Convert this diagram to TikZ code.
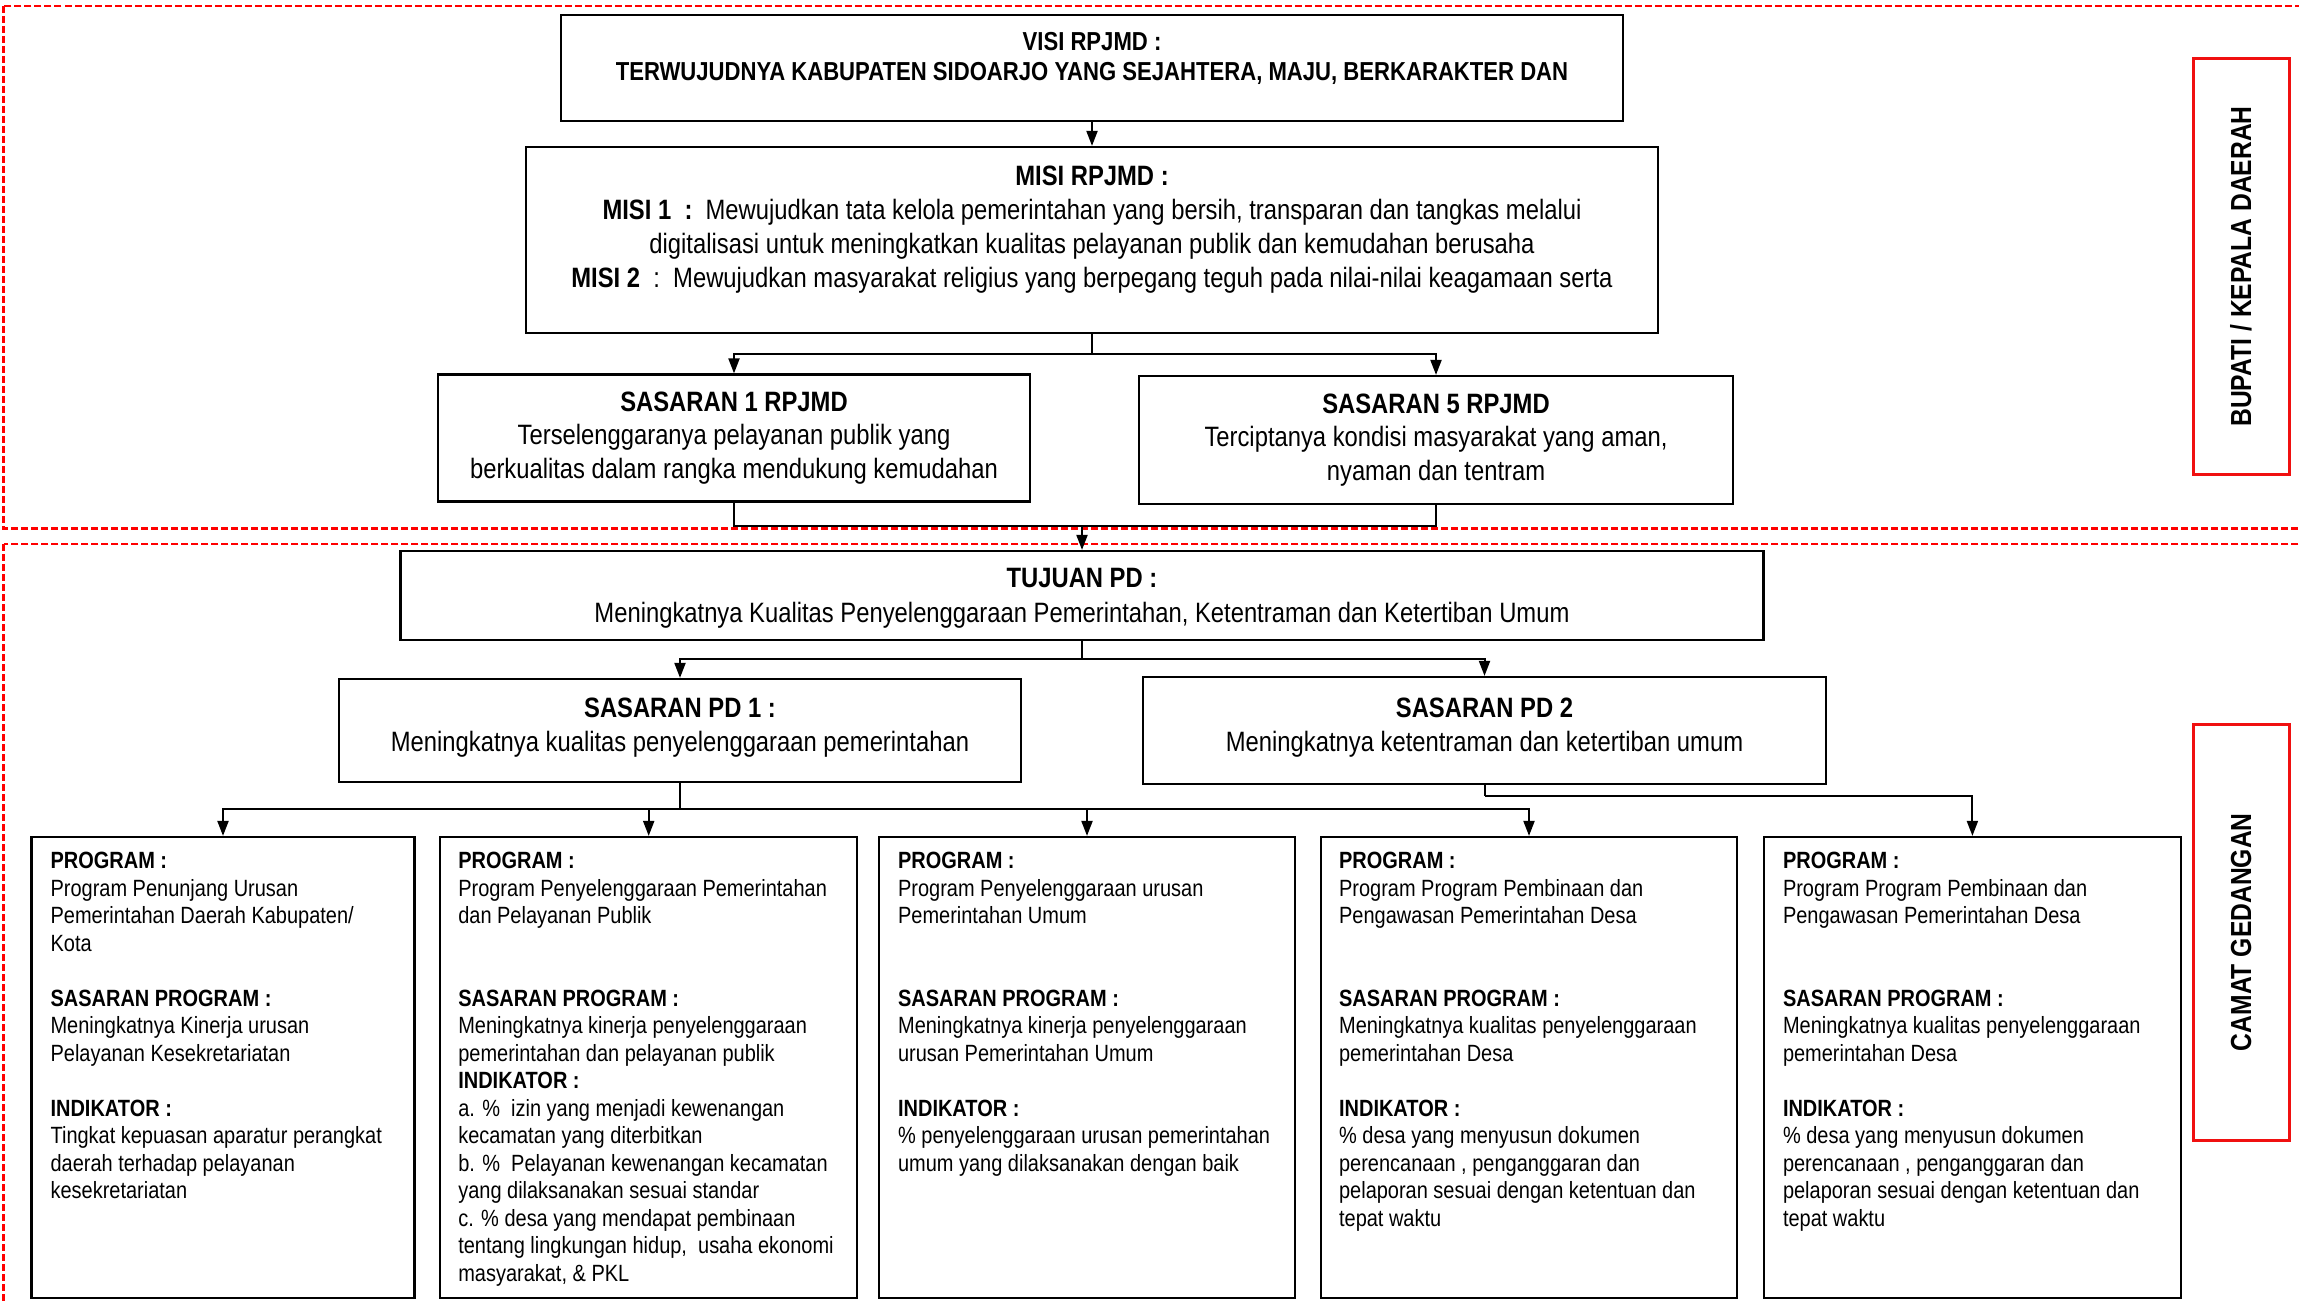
\documentclass[tikz,border=0pt]{standalone}
\usepackage{fontspec}
\setmainfont{Liberation Sans}[FakeStretch=0.85]
\usepackage{xcolor}
\usepackage{tikz}
\usetikzlibrary{arrows.meta,positioning}
\definecolor{zonered}{HTML}{FF0000}
\definecolor{sidered}{HTML}{F01010}
\tikzset{
  box/.style={draw=black,line width=2.2pt,align=center,inner sep=0pt},
  progbox/.style={draw=black,line width=2.2pt,minimum height=461pt,inner sep=0pt},
  progtext/.style={anchor=north west,align=left,inner sep=0pt,font=\fontsize{23.5}{27.5}\selectfont},
  sidebox/.style={draw=sidered,line width=3pt,rotate=90,minimum width=416pt,minimum height=96pt,inner sep=0pt,font=\fontsize{29}{34}\selectfont\bfseries},
  zone/.style={draw=zonered,line width=2.5pt,dash pattern=on 7pt off 3pt},
  wire/.style={draw=black,line width=2pt},
  flow/.style={-{Triangle[length=15pt,width=11pt]},draw=black,line width=2pt}
}

\begin{document}
\begin{tikzpicture}[x=1pt,y=-1pt]
  \useasboundingbox (0,0) rectangle (2299,1303);
  % dashed zones
  \draw[zone] (3.7,6) rectangle (2320,528.6);
  \draw[zone] (3.7,544) rectangle (2320,1320);

  % rpjmd
  \node[box,minimum width=1062pt,minimum height=106pt,text depth=24pt,font=\fontsize{26}{30}\selectfont\bfseries] (visi) at (1092,68)
    {VISI RPJMD :\\TERWUJUDNYA KABUPATEN SIDOARJO YANG SEJAHTERA, MAJU, BERKARAKTER DAN};
  \node[box,minimum width=1132pt,minimum height=186pt,text depth=26pt,font=\fontsize{28}{34}\selectfont] (misi) at (1092,240)
    {\textbf{MISI RPJMD :}\\
     \textbf{MISI 1\ \ :}\ \ Mewujudkan tata kelola pemerintahan yang bersih, transparan dan tangkas melalui\\
     digitalisasi untuk meningkatkan kualitas pelayanan publik dan kemudahan berusaha\\
     \textbf{MISI 2}\ \ :\ \ Mewujudkan masyarakat religius yang berpegang teguh pada nilai-nilai keagamaan serta};
  \node[box,minimum width=592pt,minimum height=127pt,font=\fontsize{28}{33.5}\selectfont] (sas1) at (734,438)
    {\textbf{SASARAN 1 RPJMD}\\Terselenggaranya pelayanan publik yang\\berkualitas dalam rangka mendukung kemudahan};
  \node[box,minimum width=594pt,minimum height=128pt,font=\fontsize{28}{33.5}\selectfont] (sas5) at (1436,440)
    {\textbf{SASARAN 5 RPJMD}\\Terciptanya kondisi masyarakat yang aman,\\nyaman dan tentram};

  % perangkat daerah
  \node[box,minimum width=1363pt,minimum height=89pt,text depth=0pt,font=\fontsize{28}{35}\selectfont] (tujuan) at (1082,595.5)
    {\textbf{TUJUAN PD :}\\Meningkatnya Kualitas Penyelenggaraan Pemerintahan, Ketentraman dan Ketertiban Umum};
  \node[box,minimum width=682pt,minimum height=103pt,text depth=12pt,font=\fontsize{28}{33.5}\selectfont] (pd1) at (680,730.5)
    {\textbf{SASARAN PD 1 :}\\Meningkatnya kualitas penyelenggaraan pemerintahan};
  \node[box,minimum width=683pt,minimum height=107pt,text depth=12pt,font=\fontsize{28}{33.5}\selectfont] (pd2) at (1484.5,730.5)
    {\textbf{SASARAN PD 2}\\Meningkatnya ketentraman dan ketertiban umum};

  % program
  \node[progbox,minimum width=383pt] (p1) at (223,1067.5) {};
  \node[progbox,minimum width=417pt] (p2) at (648.7,1067.5) {};
  \node[progbox,minimum width=416pt] (p3) at (1087,1067.5) {};
  \node[progbox,minimum width=416pt] (p4) at (1529,1067.5) {};
  \node[progbox,minimum width=417pt] (p5) at (1972.4,1067.5) {};

  \node[progtext] (p1t) at ([xshift=20pt,yshift=-16pt]p1.north west)
    {\textbf{PROGRAM :}\\Program Penunjang Urusan\\Pemerintahan Daerah Kabupaten/\\Kota\\[27.5pt]
     \textbf{SASARAN PROGRAM :}\\Meningkatnya Kinerja urusan\\Pelayanan Kesekretariatan\\[27.5pt]
     \textbf{INDIKATOR :}\\Tingkat kepuasan aparatur perangkat\\daerah terhadap pelayanan\\kesekretariatan};
  \node[progtext] (p2t) at ([xshift=19pt,yshift=-16pt]p2.north west)
    {\textbf{PROGRAM :}\\Program Penyelenggaraan Pemerintahan\\dan Pelayanan Publik\\[55pt]
     \textbf{SASARAN PROGRAM :}\\Meningkatnya kinerja penyelenggaraan\\pemerintahan dan pelayanan publik\\
     \textbf{INDIKATOR :}\\a. \%\ \ izin yang menjadi kewenangan\\kecamatan yang diterbitkan\\
     b. \%\ \ Pelayanan kewenangan kecamatan\\yang dilaksanakan sesuai standar\\
     c. \% desa yang mendapat pembinaan\\tentang lingkungan hidup,\ \ usaha ekonomi\\masyarakat, \& PKL};
  \node[progtext] (p3t) at ([xshift=20pt,yshift=-16pt]p3.north west)
    {\textbf{PROGRAM :}\\Program Penyelenggaraan urusan\\Pemerintahan Umum\\[55pt]
     \textbf{SASARAN PROGRAM :}\\Meningkatnya kinerja penyelenggaraan\\urusan Pemerintahan Umum\\[27.5pt]
     \textbf{INDIKATOR :}\\\% penyelenggaraan urusan pemerintahan\\umum yang dilaksanakan dengan baik};
  \node[progtext] (p4t) at ([xshift=19pt,yshift=-16pt]p4.north west)
    {\textbf{PROGRAM :}\\Program Program Pembinaan dan\\Pengawasan Pemerintahan Desa\\[55pt]
     \textbf{SASARAN PROGRAM :}\\Meningkatnya kualitas penyelenggaraan\\pemerintahan Desa\\[27.5pt]
     \textbf{INDIKATOR :}\\\% desa yang menyusun dokumen\\perencanaan , penganggaran dan\\pelaporan sesuai dengan ketentuan dan\\tepat waktu};
  \node[progtext] (p5t) at ([xshift=20pt,yshift=-16pt]p5.north west)
    {\textbf{PROGRAM :}\\Program Program Pembinaan dan\\Pengawasan Pemerintahan Desa\\[55pt]
     \textbf{SASARAN PROGRAM :}\\Meningkatnya kualitas penyelenggaraan\\pemerintahan Desa\\[27.5pt]
     \textbf{INDIKATOR :}\\\% desa yang menyusun dokumen\\perencanaan , penganggaran dan\\pelaporan sesuai dengan ketentuan dan\\tepat waktu};

  % side labels
  \node[sidebox] (bupati) at (2241,266.4) {BUPATI / KEPALA DAERAH};
  \node[sidebox] (camat) at (2241,932.2) {CAMAT GEDANGAN};

  % connectors
  \draw[flow] (visi) -- (misi);
  \coordinate (mj) at (1092,354);
  \draw[wire] (misi.south) -- (mj);
  \draw[flow] (mj) -| (sas1.north);
  \draw[flow] (mj) -| (sas5.north);
  \coordinate (sj) at (1082,526);
  \draw[wire] (sas1.south) |- (sj);
  \draw[wire] (sas5.south) |- (sj);
  \draw[flow] (sj) -- (tujuan.north);
  \coordinate (tj) at (1082,659);
  \draw[wire] (tujuan.south) -- (tj);
  \draw[flow] (tj) -| (pd1.north);
  \draw[flow] (tj) -| (pd2.north);
  \coordinate (aj) at (680,809);
  \draw[wire] (pd1.south) -- (aj);
  \foreach \p in {p1,p2,p3,p4}
    \draw[flow] (aj) -| (\p.north);
  \coordinate (bj) at (1484.5,796);
  \draw[wire] (pd2.south) -- (bj);
  \draw[flow] (bj) -| (p5.north);
\end{tikzpicture}
\end{document}
